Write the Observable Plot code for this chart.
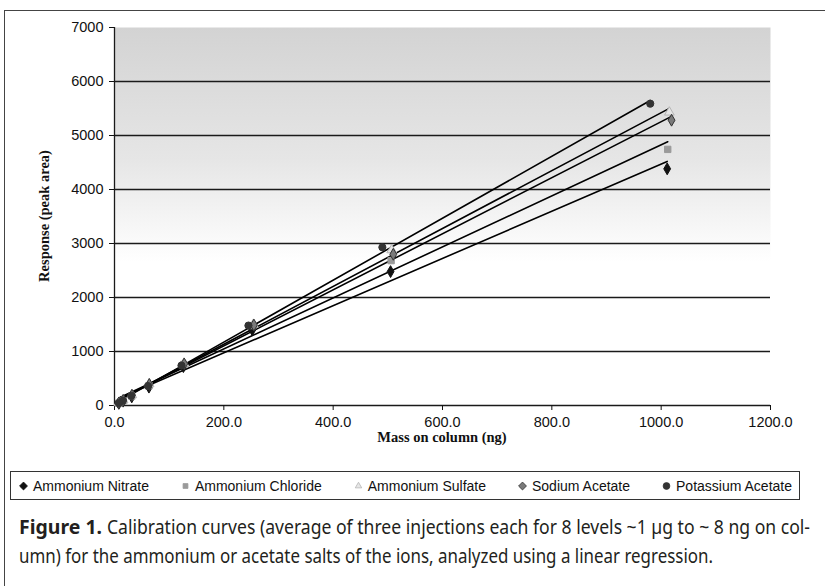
<!DOCTYPE html>
<html>
<head>
<meta charset="utf-8">
<script src="https://cdn.jsdelivr.net/npm/d3@7"></script>
<script src="https://cdn.jsdelivr.net/npm/@observablehq/plot@0.6"></script>
<style>
  html, body { margin: 0; padding: 0; background: #fff; width: 825px; height: 586px; overflow: hidden; }
  #frame { position: absolute; left: 4px; top: 10px; width: 900px; height: 700px; border-left: 1.5px solid #444; border-top: 1.5px solid #444; box-sizing: border-box; }
  #chart { position: absolute; left: 0; top: 0; }
  #legend { position: absolute; left: 10px; top: 471px; width: 790px; height: 29px; border: 1px solid #333; box-sizing: border-box;
    display: flex; align-items: center; justify-content: space-between; font-family: "Liberation Sans", Arial, sans-serif; font-size: 14px; color: #111; padding: 0 7px 0 8px; }
  #legend .item { display: flex; align-items: center; white-space: nowrap; }
  #legend svg { margin-right: 5px; }
  #caption { position: absolute; left: 0; top: 505px; }
</style>
</head>
<body>
<div id="frame"></div>
<div id="chart"></div>
<div id="legend"></div>
<svg id="caption" width="825" height="81"></svg>
<script>
// ---- data ----
const salts = ["Ammonium Nitrate", "Ammonium Chloride", "Ammonium Sulfate", "Sodium Acetate", "Potassium Acetate"];

const massNitrate   = [1011, 505, 252, 126, 63, 31.6, 15.8, 7.9];
const respNitrate   = [4383, 2480, 1400, 720, 340, 160, 80, 40];

const massChloride  = [1012, 506, 253, 126.5, 63.2, 31.6, 15.8, 7.9];
const respChloride  = [4743, 2683, 1480, 760, 368, 173, 87, 43];

const massSulfate   = [1015, 507, 254, 127, 63.4, 31.7, 15.9, 7.9];
const respSulfate   = [5430, 2880, 1500, 780, 400, 196, 98, 49];

const massSodium    = [1019, 510, 255, 127.5, 63.7, 31.9, 15.9, 8];
const respSodium    = [5283, 2800, 1490, 770, 390, 190, 95, 48];

const massPotassium = [980, 490, 245, 122.5, 61.3, 30.6, 15.3, 7.7];
const respPotassium = [5590, 2930, 1480, 740, 360, 180, 90, 45];

const xTicks = [0, 200, 400, 600, 800, 1000, 1200];
const yTicks = [0, 1000, 2000, 3000, 4000, 5000, 6000, 7000];
const gridTicks = [1000, 2000, 3000, 4000, 5000, 6000];

const captionBold = "Figure 1.";
const captionLine1 = "Calibration curves (average of three injections each for 8 levels ~1 µg to ~ 8 ng on col-";
const captionLine2 = "umn) for the ammonium or acetate salts of the ions, analyzed using a linear regression.";

// ---- styles per series ----
const styles = {
  "Ammonium Nitrate":  {symbol: "diamond",  fill: "#111111", stroke: "#111111"},
  "Ammonium Chloride": {symbol: "square",   fill: "#9a9a9a", stroke: "#9a9a9a"},
  "Ammonium Sulfate":  {symbol: "triangle", fill: "#e6e6e6", stroke: "#b5b5b5"},
  "Sodium Acetate":    {symbol: "diamond",  fill: "#7a7a7a", stroke: "#333333"},
  "Potassium Acetate": {symbol: "circle",   fill: "#333333", stroke: "#333333"}
};

const series = [
  [salts[0], massNitrate, respNitrate],
  [salts[1], massChloride, respChloride],
  [salts[2], massSulfate, respSulfate],
  [salts[3], massSodium, respSodium],
  [salts[4], massPotassium, respPotassium]
];
const data = series.flatMap(([salt, ms, rs]) => ms.map((m, i) => ({salt, mass: m, response: rs[i]})));

const font = '"Liberation Sans", Arial, sans-serif';

const plot = Plot.plot({
  width: 825,
  height: 465,
  marginLeft: 114,
  marginRight: 55,
  marginTop: 27,
  marginBottom: 60,
  style: {fontFamily: font, fontSize: "14.5px", color: "#111", background: "transparent", overflow: "visible"},
  x: {domain: [0, 1200]},
  y: {domain: [0, 7000]},
  marks: [
    Plot.frame({fill: "url(#bgGrad)", stroke: null}),
    Plot.gridY(gridTicks, {stroke: "#1a1a1a", strokeOpacity: 1, strokeWidth: 1.3}),
    Plot.ruleY([0], {stroke: "#1a1a1a", strokeWidth: 1.3}),
    Plot.ruleX([0], {stroke: "#1a1a1a", strokeWidth: 1.3}),
    Plot.axisY({ticks: yTicks, tickSize: 5, tickPadding: 6, label: null, tickFormat: d => String(d), fontSize: 14.5}),
    Plot.axisX({ticks: xTicks, tickSize: 5, tickPadding: 6, label: null, tickFormat: d => d.toFixed(1), fontSize: 14.5}),
    Plot.linearRegressionY(data, {x: "mass", y: "response", z: "salt", stroke: "#000", strokeWidth: 1.6, ci: 0}),
    ...salts.map(s => Plot.dot(data.filter(d => d.salt === s), {
      x: "mass", y: "response", r: 3.6,
      symbol: styles[s].symbol, fill: styles[s].fill, stroke: styles[s].stroke, strokeWidth: 1
    }))
  ]
});

// gradient background for the plot area
const svg = d3.select(plot);
const defs = svg.insert("defs", ":first-child");
const grad = defs.append("linearGradient").attr("id", "bgGrad").attr("x1", 0).attr("y1", 0).attr("x2", 0).attr("y2", 1);
grad.append("stop").attr("offset", "0%").attr("stop-color", "#d3d3d3");
grad.append("stop").attr("offset", "35%").attr("stop-color", "#e6e6e6");
grad.append("stop").attr("offset", "62%").attr("stop-color", "#ffffff");
grad.append("stop").attr("offset", "100%").attr("stop-color", "#ffffff");

// axis titles
svg.append("text")
  .attr("x", (114 + 770) / 2).attr("y", 442)
  .attr("text-anchor", "middle")
  .style("font-family", '"Liberation Serif", "Times New Roman", serif')
  .style("font-weight", "bold").style("font-size", "14.5px").attr("fill", "#111")
  .text("Mass on column (ng)");
svg.append("text")
  .attr("transform", "translate(49,216) rotate(-90)")
  .attr("text-anchor", "middle")
  .style("font-family", '"Liberation Serif", "Times New Roman", serif')
  .style("font-weight", "bold").style("font-size", "14.5px").attr("fill", "#111")
  .text("Response (peak area)");

document.getElementById("chart").appendChild(plot);

// legend
const legend = d3.select("#legend");
const symGen = {
  diamond: d3.symbol(d3.symbolDiamond2, 40),
  square: d3.symbol(d3.symbolSquare2, 30),
  triangle: d3.symbol(d3.symbolTriangle2, 30),
  circle: d3.symbol(d3.symbolCircle, 36)
};
salts.forEach(s => {
  const it = legend.append("div").attr("class", "item");
  const sv = it.append("svg").attr("width", 9).attr("height", 10);
  sv.append("path").attr("transform", "translate(4.5,5)").attr("d", symGen[styles[s].symbol]())
    .attr("fill", styles[s].fill).attr("stroke", styles[s].stroke).attr("stroke-width", 0.8);
  it.append("span").text(s);
});

// caption (condensed by textLength)
const cap = d3.select("#caption");
const capFont = '"Noto Sans", "Open Sans", sans-serif';
cap.append("text").attr("x", 19).attr("y", 29)
  .attr("textLength", 83).attr("lengthAdjust", "spacingAndGlyphs")
  .style("font-family", capFont).style("font-size", "19.5px").style("font-weight", "bold").attr("fill", "#231f20")
  .text(captionBold);
cap.append("text").attr("x", 107).attr("y", 29)
  .attr("textLength", 703).attr("lengthAdjust", "spacingAndGlyphs")
  .style("font-family", capFont).style("font-size", "19.5px").attr("fill", "#231f20")
  .text(captionLine1);
cap.append("text").attr("x", 19).attr("y", 58)
  .attr("textLength", 694).attr("lengthAdjust", "spacingAndGlyphs")
  .style("font-family", capFont).style("font-size", "19.5px").attr("fill", "#231f20")
  .text(captionLine2);
</script>
</body>
</html>
